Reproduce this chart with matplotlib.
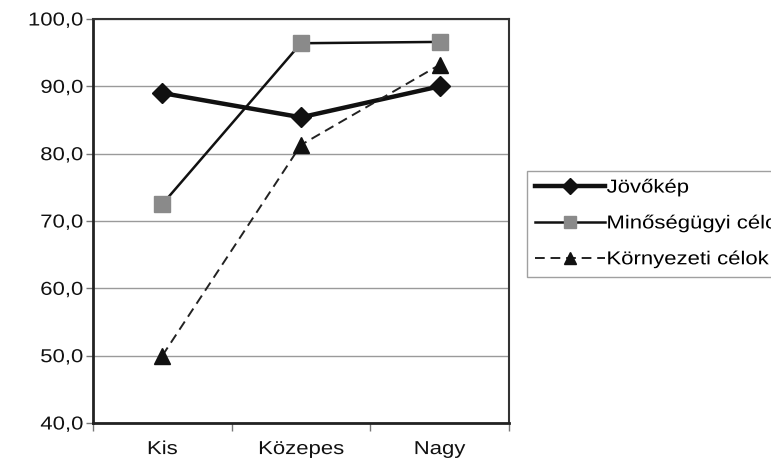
import matplotlib
matplotlib.use("Agg")
import matplotlib.pyplot as plt
from matplotlib.ticker import FixedLocator, FuncFormatter, NullFormatter
from matplotlib.patheffects import AbstractPathEffect
from matplotlib.transforms import Affine2D

plt.rcParams['font.family'] = ['Liberation Sans', 'DejaVu Sans']

categories = ["Kis", "Közepes", "Nagy"]
jovokep = [89.0, 85.4, 90.0]
minoseg = [72.5, 96.4, 96.6]
kornyezet = [50.0, 81.3, 93.2]
series_names = ["Jövőkép", "Minőségügyi célok", "Környezeti célok"]
yticks = [40, 50, 60, 70, 80, 90, 100]


class Stretch(AbstractPathEffect):
    """Stretch text glyphs horizontally about an anchor."""
    def __init__(self, sx=1.18, anchor="left"):
        super().__init__()
        self.sx = sx
        self.anchor = anchor

    def draw_path(self, renderer, gc, tpath, affine, rgbFace=None):
        ext = tpath.get_extents()
        if self.anchor == "right":
            xa = ext.x1
        elif self.anchor == "center":
            xa = 0.5 * (ext.x0 + ext.x1)
        else:
            xa = ext.x0
        t = Affine2D().translate(-xa, 0).scale(self.sx, 1).translate(xa, 0) + affine
        renderer.draw_path(gc, tpath, t, rgbFace)


SX = 1.18
FS = 13.5

fig = plt.figure(figsize=(7.71, 4.67), dpi=100)
W, H = 771, 467
ax = fig.add_axes([93 / W, 1 - 423 / H, (509 - 93) / W, (423 - 19) / H])

x = list(range(len(categories)))
ax.plot(x, jovokep, color="#111111", lw=3.2, marker="D", markersize=10,
        markerfacecolor="#111111", markeredgecolor="#111111", label=series_names[0], zorder=5)
ax.plot(x, minoseg, color="#111111", lw=1.8, marker="s", markersize=11,
        markerfacecolor="#8a8a8a", markeredgecolor="#8a8a8a", label=series_names[1], zorder=4)
ax.plot(x, kornyezet, color="#222222", lw=1.4, ls=(0, (5, 3)), marker="^", markersize=11,
        markerfacecolor="#111111", markeredgecolor="#111111", label=series_names[2], zorder=6)

ax.set_xlim(-0.5, len(categories) - 0.5)
ax.set_ylim(40, 100)
ax.set_yticks(yticks)
ax.yaxis.set_major_formatter(FuncFormatter(lambda v, p: f"{v:.1f}".replace(".", ",")))
ax.yaxis.grid(True, color="#9a9a9a", lw=1.0)
ax.set_axisbelow(True)

ax.set_xticks(x)
ax.set_xticklabels(categories)
ax.xaxis.set_minor_locator(FixedLocator([i - 0.5 for i in range(len(categories) + 1)]))
ax.xaxis.set_minor_formatter(NullFormatter())
ax.tick_params(axis="x", which="major", length=0, pad=13, labelsize=FS, colors="#111111")
ax.tick_params(axis="x", which="minor", length=6, width=1, direction="out", color="#777777")
ax.tick_params(axis="y", length=5, width=1, direction="out", pad=2, labelsize=FS,
               colors="#111111", color="#777777")

for side in ["left", "bottom"]:
    ax.spines[side].set_linewidth(2.0)
    ax.spines[side].set_color("#222222")
for side in ["top", "right"]:
    ax.spines[side].set_linewidth(1.5)
    ax.spines[side].set_color("#333333")

leg = fig.legend(loc="upper left", bbox_to_anchor=(527 / W, 1 - 171 / H, 300 / W, 0),
                 mode="expand",
                 fontsize=FS, frameon=True, fancybox=False, edgecolor="#888888",
                 handlelength=3.7, handletextpad=0.1, borderpad=0.45, labelspacing=1.0,
                 borderaxespad=0, markerscale=0.8)
leg.get_frame().set_linewidth(1.0)

fig.canvas.draw()
for lab in ax.get_yticklabels():
    lab.set_path_effects([Stretch(SX, "right")])
for lab in ax.get_xticklabels():
    lab.set_path_effects([Stretch(SX, "center")])
for t in leg.get_texts():
    t.set_path_effects([Stretch(SX, "left")])

fig.savefig("out.png", dpi=100)
